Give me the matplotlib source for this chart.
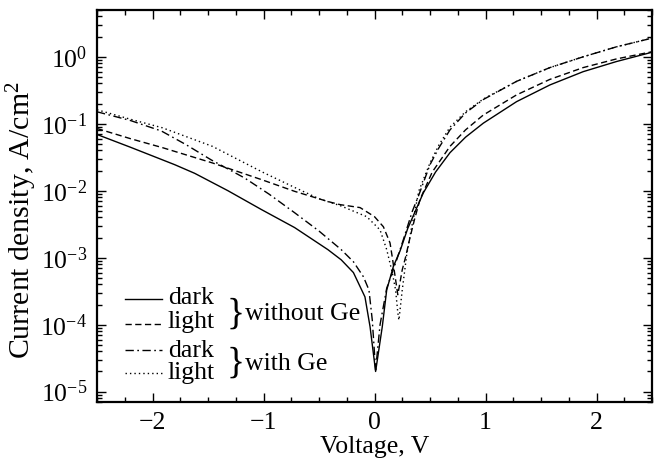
import numpy as np
import matplotlib
matplotlib.use("Agg")
import matplotlib.pyplot as plt
from matplotlib.ticker import LogLocator, MultipleLocator, NullFormatter

plt.rcParams['font.family'] = ['Liberation Serif', 'DejaVu Serif']
plt.rcParams['mathtext.fontset'] = 'custom'
plt.rcParams['mathtext.rm'] = 'Liberation Serif'
plt.rcParams['mathtext.it'] = 'Liberation Serif:italic'
plt.rcParams['mathtext.bf'] = 'Liberation Serif:bold'

# ---- data ----
v_dark_noge = [-2.5, -2.2, -2.0, -1.8, -1.62, -1.32, -1.02, -0.72, -0.42, -0.3, -0.19, -0.086, -0.04,
               0.01, 0.07, 0.11, 0.17, 0.23, 0.30, 0.44, 0.55, 0.68, 0.82, 0.98, 1.28, 1.58, 1.88, 2.18, 2.5]
j_dark_noge = [0.0692, 0.0447, 0.0331, 0.0245, 0.0182, 0.010, 5.25e-3, 2.82e-3, 1.32e-3, 9.3e-4, 6.0e-4,
               2.6e-4, 9.3e-5, 2.0e-5, 9.3e-5, 3.3e-4, 7.4e-4, 1.26e-3, 2.75e-3, 9.3e-3, 0.019, 0.037,
               0.063, 0.102, 0.214, 0.38, 0.60, 0.85, 1.17]

v_light_noge = [-2.5, -2.2, -1.91, -1.46, -1.01, -0.72, -0.42, -0.31, -0.13, 0.0, 0.08, 0.14, 0.16,
                0.19, 0.21, 0.25, 0.28, 0.32, 0.36, 0.41, 0.52, 0.68, 0.82, 0.98, 1.28, 1.58, 1.88, 2.18, 2.5]
j_light_noge = [0.085, 0.060, 0.044, 0.026, 0.0145, 9.8e-3, 6.9e-3, 6.2e-3, 5.6e-3, 4.1e-3, 2.9e-3,
                1.66e-3, 1.02e-3, 4.7e-4, 2.8e-4, 6.6e-4, 1.02e-3, 2.0e-3, 3.7e-3, 7.4e-3, 0.019,
                0.046, 0.081, 0.135, 0.27, 0.46, 0.69, 0.93, 1.19]

v_dark_ge = [-2.5, -2.2, -1.92, -1.7, -1.47, -1.17, -0.95, -0.72, -0.5, -0.3, -0.19, -0.10, -0.05,
             -0.02, 0.01, 0.05, 0.11, 0.2, 0.26, 0.34, 0.4, 0.5, 0.58, 0.68, 0.82, 0.98, 1.28, 1.58,
             1.88, 2.18, 2.5]
j_dark_ge = [0.151, 0.112, 0.078, 0.049, 0.0288, 0.0155, 8.9e-3, 4.7e-3, 2.5e-3, 1.32e-3, 8.7e-4,
             5.2e-4, 3.3e-4, 1.17e-4, 2.1e-5, 1.0e-4, 3.5e-4, 9.3e-4, 1.86e-3, 4.9e-3, 8.7e-3, 0.0245,
             0.0437, 0.081, 0.145, 0.23, 0.43, 0.69, 1.0, 1.41, 1.9]

v_light_ge = [-2.5, -2.2, -1.91, -1.46, -1.01, -0.72, -0.5, -0.31, -0.07, 0.05, 0.11, 0.16, 0.19,
              0.21, 0.22, 0.25, 0.29, 0.33, 0.4, 0.5, 0.58, 0.68, 0.82, 0.98, 1.28, 1.58, 1.88, 2.18, 2.5]
j_light_ge = [0.162, 0.117, 0.087, 0.046, 0.019, 0.0112, 7.6e-3, 6.0e-3, 4.1e-3, 2.6e-3, 1.32e-3,
              6.0e-4, 3.3e-4, 1.51e-4, 1.17e-4, 3.3e-4, 1.1e-3, 2.6e-3, 0.010, 0.026, 0.048, 0.089,
              0.151, 0.234, 0.43, 0.69, 1.0, 1.41, 1.9]

legend_rows = ["dark", "light", "dark", "light"]
group_labels = ["without Ge", "with Ge"]

# ---- figure ----
W, H = 657, 468
fig = plt.figure(figsize=(W / 100, H / 100), dpi=100)
L, R, T, B = 97, 652, 10, 402
ax = fig.add_axes([L / W, 1 - B / H, (R - L) / W, (B - T) / H])

lw = 1.0
ls_dash = (0, (4.5, 2.5))
ls_dashdot = (0, (6, 2.5, 1.2, 2.5))
ls_dot = (0, (1, 2.2))
ax.plot(v_dark_noge, j_dark_noge, color='black', lw=lw, ls='-')
ax.plot(v_light_noge, j_light_noge, color='black', lw=lw, ls=ls_dash)
ax.plot(v_dark_ge, j_dark_ge, color='black', lw=lw, ls=ls_dashdot)
ax.plot(v_light_ge, j_light_ge, color='black', lw=lw, ls=ls_dot)

ax.set_yscale('log')
ax.set_xlim(-2.5, 2.5)
ax.set_ylim(7e-6, 5.0)

fs = 18.5
ax.set_xlabel("Voltage, V", fontsize=fs, labelpad=2)
fig.text(22 / W, 1 - 220 / H, "Current density, A/cm$^2$", fontsize=21.5,
         rotation=90, ha='center', va='center')

ax.xaxis.set_major_locator(MultipleLocator(1))
ax.xaxis.set_minor_locator(MultipleLocator(0.25))
ax.yaxis.set_major_locator(LogLocator(base=10, numticks=20))
ax.yaxis.set_minor_locator(LogLocator(base=10, subs=np.arange(2, 10), numticks=20))
ax.yaxis.set_minor_formatter(NullFormatter())

ax.tick_params(which='both', direction='in', top=True, right=True, labelsize=fs, width=1.0)
ax.tick_params(which='major', length=6.5, pad=7)
ax.tick_params(which='minor', length=3.6)
for s in ax.spines.values():
    s.set_linewidth(1.6)

# ---- hand-made legend ----
def fx(px):
    return (px - L) / (R - L)

def fy(py):
    return (B - py) / (B - T)

styles = ['-', ls_dash, ls_dashdot, ls_dot]
line_y = [299, 324, 350, 373]
text_base = [304, 328, 357, 379]
for st, ly, tb, lab in zip(styles, line_y, text_base, legend_rows):
    ax.plot([fx(125), fx(162)], [fy(ly), fy(ly)], transform=ax.transAxes,
            color='black', lw=lw, ls=st, clip_on=False)
    ax.text(fx(168), fy(tb), lab, transform=ax.transAxes, fontsize=fs,
            ha='left', va='baseline')

brace_y = [314, 363]
group_base = [320, 370]
for by, gb, g in zip(brace_y, group_base, group_labels):
    ax.text(fx(227), fy(by), "}", transform=ax.transAxes, fontsize=27,
            ha='left', va='center')
    ax.text(fx(245), fy(gb), g, transform=ax.transAxes, fontsize=fs,
            ha='left', va='baseline')

fig.savefig("out.png", dpi=100)
